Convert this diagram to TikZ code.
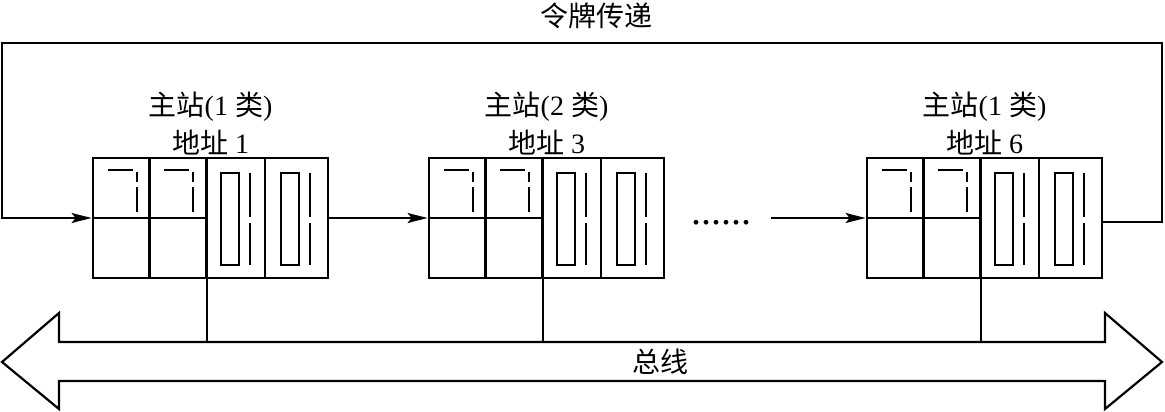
\documentclass[tikz,border=0pt]{standalone}
\usepackage{fontspec}
\setmainfont{Liberation Serif}
\newfontfamily\cjk{Noto Sans CJK SC}
\usetikzlibrary{arrows.meta}
\begin{document}
\begin{tikzpicture}[x=1pt,y=-1pt,
  every node/.style={font=\fontsize{28}{30}\selectfont,inner sep=0pt},
  station/.style={draw,line width=2.8pt,minimum width=235pt,minimum height=120pt},
  seg/.style={line width=2.6pt},
  tok/.style={line width=1.6pt,-{Stealth[length=20pt,width=10pt,inset=4pt]}}]
\useasboundingbox (0,0) rectangle (1165,412);
% stations
\foreach \n/\x/\cls/\adr in {s1/93/1/1,s2/429/2/3,s3/867/1/6}{
  \node[station] (\n) at (\x+117.5,218) {};
  \node (\n a) at (\x+117.5,143) {{\cjk 地址} \adr};
  \node (\n t) at (\x+117.5,107) {{\cjk 主站}(\cls{} {\cjk 类})};
  \begin{scope}[shift={(\x,158)},seg]
    \draw (0,60) -- (113.5,60);
    \draw (56.5,0) -- (56.5,120) (113.5,0) -- (113.5,120) (172,0) -- (172,120);
    \foreach \d in {0,56}{
      \draw (\d+15,12) -- (\d+40,12);
      \draw (\d+44,14) -- (\d+44,24) (\d+44,29) -- (\d+44,54);}
    \foreach \d in {0,60}{
      \draw (\d+128,15) rectangle (\d+146,107);
      \draw (\d+157,15) -- (\d+157,59) (\d+157,65) -- (\d+157,107);}
  \end{scope}
}
% bus
\coordinate (bt) at (0,342);
\draw[line width=2.2pt] (2,362) -- (59,313) -- (59,342) -- (1105,342) -- (1105,313) -- (1162,362)
  -- (1105,409) -- (1105,381) -- (59,381) -- (59,409) -- cycle;
\node (bus) at (660,362) {\cjk 总线};
\foreach \n in {s1,s2,s3}
  \draw[line width=2pt] ([xshift=-4pt]\n.south) -- ([xshift=-4pt]\n.south |- bt);
% token ring
\node (title) at (596,16) {\cjk 令牌传递};
\coordinate (tr) at (1162,43);
\coordinate (tl) at (2,43);
\draw[tok] ([yshift=-4pt]s3.east) -| (tr) -- (tl) |- (s1.west);
\draw[tok] (s1.east) -- (s2.west);
\node[anchor=base,font=\fontsize{40}{40}\selectfont] (dots) at (721,224) {......};
\draw[tok,shorten <=20pt] (dots.east |- s3.west) -- (s3.west);
\end{tikzpicture}
\end{document}
